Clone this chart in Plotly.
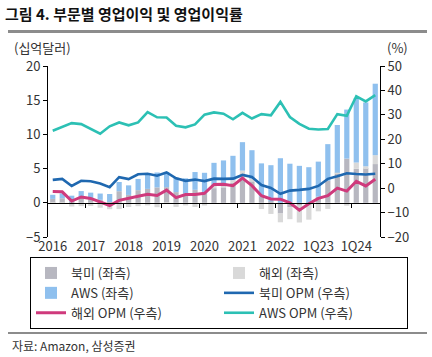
import plotly.graph_objects as go

# ---- data (quarterly, 1Q16 - 3Q24) ----
quarters = [f"{q}Q{y:02d}" for y in range(16, 25) for q in range(1, 5)][:35]
tick_labels = ["2016", "2017", "2018", "2019", "2020", "2021", "2022", "1Q23", "1Q24"]

na_oi = [0.57, 0.67, 0.18, 0.79,
         0.596, 0.436, 0.112, 1.692,
         1.149, 1.847, 2.032, 2.251,
         2.286, 1.564, 1.314, 1.900,
         1.312, 2.141, 2.252, 2.946,
         3.450, 3.135, 0.880, 0.206,
         -1.568, -0.627, -0.412, -0.240,
         0.898, 3.211, 4.307, 6.461,
         4.983, 5.065, 5.663]
intl_oi = [-0.14, -0.15, -0.54, -0.49,
           -0.453, -0.724, -0.936, -0.919,
           -0.622, -0.494, -0.385, -0.642,
           -0.090, -0.601, -0.386, -0.617,
           -0.398, 0.345, 0.407, 0.363,
           1.252, 0.362, -0.911, -1.627,
           -1.281, -1.771, -2.466, -2.228,
           -1.247, -0.895, 0.095, -0.419,
           0.903, 0.273, 1.301]
aws_oi = [0.604, 0.718, 0.861, 0.926,
          0.890, 0.916, 1.171, 1.354,
          1.400, 1.642, 2.077, 2.177,
          2.223, 2.121, 2.261, 2.596,
          3.075, 3.357, 3.535, 3.563,
          4.163, 4.193, 4.883, 5.293,
          6.518, 5.715, 5.403, 5.205,
          5.123, 5.365, 6.976, 7.167,
          9.421, 9.334, 10.447]
na_opm = [3.4, 3.8, 0.9, 3.0,
          2.8, 1.9, 0.4, 4.5,
          3.7, 5.7, 5.9, 5.1,
          6.4, 4.0, 3.0, 3.5,
          2.9, 3.9, 3.8, 3.9,
          5.4, 4.6, 1.3, 0.1,
          -2.3, -1.0, -0.7, -0.3,
          0.9, 3.8, 4.9, 6.1,
          5.8, 5.6, 5.9]
intl_opm = [-1.4, -1.5, -5.3, -3.6,
            -4.2, -5.6, -7.1, -5.0,
            -4.0, -3.3, -2.5, -3.0,
            -0.8, -3.9, -2.6, -2.6,
            -2.1, 1.5, 1.6, 1.0,
            4.1, 1.0, -3.1, -4.4,
            -4.5, -6.0, -9.0, -6.4,
            -4.2, -3.1, 0.0, -1.2,
            2.8, 0.9, 3.6]
aws_opm = [23.5, 24.9, 26.6, 26.2,
           24.4, 22.3, 25.3, 26.9,
           25.7, 26.9, 31.1, 29.0,
           28.9, 25.5, 24.9, 26.1,
           30.1, 31.0, 30.5, 28.2,
           30.8, 28.5, 30.3, 29.8,
           35.3, 29.1, 26.3, 24.3,
           24.0, 24.2, 30.3, 29.6,
           37.6, 35.5, 38.1]

x = list(range(len(quarters)))
label_pos = x[::4]
boundary_pos = [p - 0.5 for p in label_pos[1:]]

FONT = "Noto Sans CJK KR, Noto Sans, sans-serif"
TXT = "#333333"

W, H = 432, 357
# outer region (spans the decorative rules) in px
OL, OR, OT, OB = 8, 427, 31, 333
ow, oh = OR - OL, OB - OT
# chart plot area in px
L, R, T, B = 48, 380, 66, 237
YL = [-5, 20]


def px_x(p):
    return (p - OL) / ow


def px_y(p):
    return (OB - p) / oh


xdom = [px_x(L), px_x(R)]
ydom = [px_y(B), px_y(T)]
zero_pos = ydom[0] + (0 - YL[0]) / (YL[1] - YL[0]) * (ydom[1] - ydom[0])

fig = go.Figure()
fig.add_trace(go.Bar(x=x, y=na_oi, name="북미 (좌측)", marker_color="#b7b7c0",
                     marker_line_width=0))
fig.add_trace(go.Bar(x=x, y=intl_oi, name="해외 (좌측)", marker_color="#d9d9d9",
                     marker_line_width=0))
fig.add_trace(go.Bar(x=x, y=aws_oi, name="AWS (좌측)", marker_color="#8fc0ee",
                     marker_line_width=0))
fig.add_trace(go.Scatter(x=x, y=na_opm, name="북미 OPM (우측)", yaxis="y2", mode="lines",
                         line=dict(color="#1f68b0", width=2.6)))
fig.add_trace(go.Scatter(x=x, y=intl_opm, name="해외 OPM (우측)", yaxis="y2", mode="lines",
                         line=dict(color="#cf3a7c", width=3)))
fig.add_trace(go.Scatter(x=x, y=aws_opm, name="AWS OPM (우측)", yaxis="y2", mode="lines",
                         line=dict(color="#2cc0b4", width=2.6)))
# invisible carriers for the helper axes (zero-level ticks, top/bottom rules)
for ax in ["x2", "x3", "x4"]:
    fig.add_trace(go.Scatter(x=[0], y=[0], xaxis=ax, mode="markers", opacity=0,
                             showlegend=False, hoverinfo="skip"))

xr = [-0.5, len(x) - 0.5]
rule = dict(range=[-1, 1], anchor="free", showticklabels=False, ticks="",
            showgrid=False, zeroline=False, showline=True, linecolor="#8c8c8c",
            domain=[0, 1])
fig.update_layout(
    width=W, height=H,
    margin=dict(l=OL, r=W - OR, t=OT, b=H - OB, autoexpand=False),
    paper_bgcolor="white", plot_bgcolor="rgba(0,0,0,0)",
    barmode="relative", bargap=0.45,
    font=dict(family=FONT, size=13, color=TXT),
    title=dict(text="<b>그림 4. 부문별 영업이익 및 영업이익률</b>",
               x=5 / W, xref="container", xanchor="left",
               y=1 - 15 / H, yref="container", yanchor="middle",
               font=dict(family=FONT, size=15, color="#111111")),
    xaxis=dict(domain=xdom, range=xr, tickvals=label_pos, ticktext=tick_labels, ticks="",
               showline=False, showgrid=False, zeroline=False,
               tickfont=dict(size=13, color=TXT)),
    xaxis2=dict(range=xr, overlaying="x", anchor="free", position=zero_pos, side="bottom",
                showline=True, linecolor="black", linewidth=1,
                tickvals=boundary_pos, ticks="outside", ticklen=4, tickcolor="black",
                showticklabels=False, showgrid=False, zeroline=False),
    xaxis3=dict(rule, position=1, side="top", linewidth=3),
    xaxis4=dict(rule, position=0, side="bottom", linewidth=2),
    yaxis=dict(domain=ydom, range=YL, dtick=5, showline=True, linecolor="black", linewidth=1,
               ticks="outside", ticklen=4, tickcolor="black", showgrid=False,
               zeroline=False, tickfont=dict(size=13, color=TXT)),
    yaxis2=dict(range=[-20, 50], dtick=10, overlaying="y", side="right", showline=True,
                linecolor="black", linewidth=1, ticks="outside", ticklen=4, tickcolor="black",
                showgrid=False, zeroline=False, tickfont=dict(size=13, color=TXT)),
    legend=dict(orientation="h", x=px_x(30), xanchor="left", y=px_y(257), yanchor="top",
                bordercolor="black", borderwidth=1, bgcolor="rgba(0,0,0,0)",
                entrywidth=143, entrywidthmode="pixels", traceorder="normal",
                font=dict(size=13, color=TXT)),
    showlegend=True,
)

fig.add_annotation(text="(십억달러)", xref="paper", yref="paper", x=px_x(12), y=px_y(48),
                   xanchor="left", yanchor="middle", showarrow=False,
                   font=dict(size=13, color=TXT))
fig.add_annotation(text="(%)", xref="paper", yref="paper", x=px_x(385), y=px_y(48),
                   xanchor="left", yanchor="middle", showarrow=False,
                   font=dict(size=13, color=TXT))
fig.add_annotation(text="자료: Amazon, 삼성증권", xref="paper", yref="paper",
                   x=px_x(10), y=px_y(345), xanchor="left", yanchor="middle",
                   showarrow=False, font=dict(size=12, color=TXT))

fig.write_html("out.html", config={"displayModeBar": False},
               post_script="document.body.style.margin='0';")
